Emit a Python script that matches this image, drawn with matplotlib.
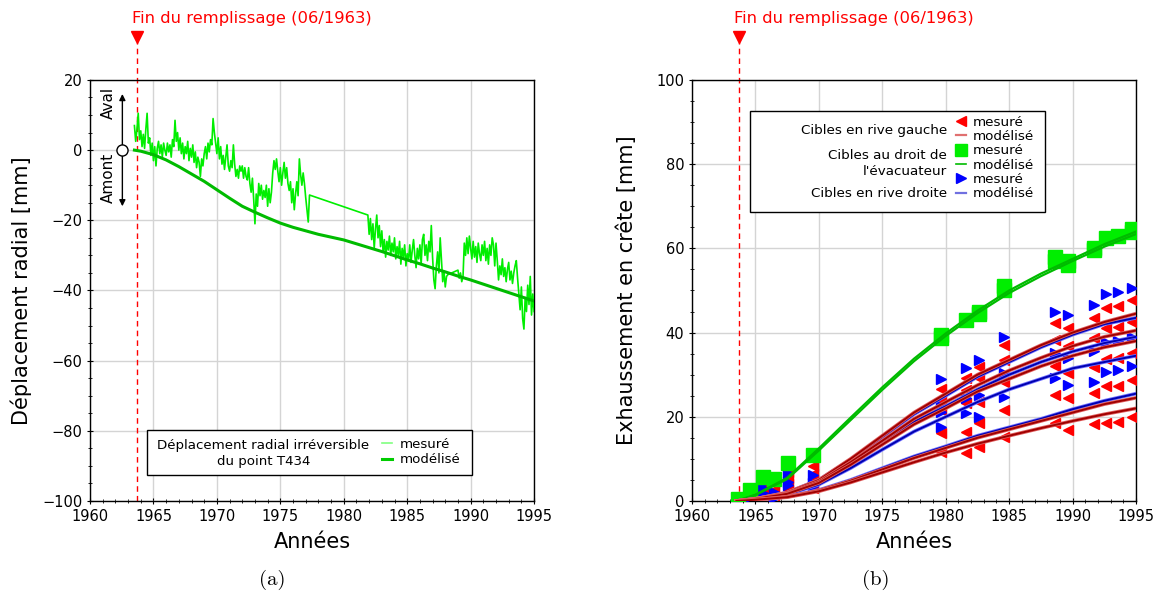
import numpy as np
import matplotlib
matplotlib.use("Agg")
import matplotlib.pyplot as plt
from matplotlib.lines import Line2D
from matplotlib.patches import Rectangle
from matplotlib.ticker import MultipleLocator

# ---------------- (a) déplacement radial du point T434 ----------------
fill_year = 1963.7

# mesuré : trois tronçons échantillonnés à 0.1 an
mes_a_start = 1963.5
mes_a = [
    7.0, 2.5, 6.0, 10.5, 3.0,
    5.5, 1.0, 4.5, 0.5, 6.0, 10.5, 2.0, 3.5, -1.5, 2.0,
    -3.0, 1.0, -4.5, 0.5, 2.5, -1.0, 1.5, -2.0, 2.0, 0.0,
    -1.5, 2.0, -0.5, 1.5, -2.0, 3.0, 1.0, 8.5, 2.5, 5.0,
    0.0, 3.5, -1.0, 2.0, -2.5, 1.0, -1.0, 2.5, -3.0, 0.5,
    -2.0, 1.5, -3.5, -0.5, -5.0, -2.0, -3.5, -7.5, -2.5, -4.5,
    -1.0, 1.0, -2.5, 2.0, -0.5, 3.0, 1.5, 9.0, 5.0, 2.0,
    -1.0, 3.5, -2.5, 1.0, -4.0, -1.5, -5.5, -2.0, 1.5, -4.5,
    -6.0, -3.0, -5.0, 1.5, -4.0, -7.5, -5.5, -8.0, -4.5, -6.0,
    -4.5, -8.0, -5.0, -7.5, -8.5, -5.0, -9.5, -12.0, -8.0, -14.0,
    -21.0, -12.5, -16.0, -9.5, -13.0, -10.0, -14.0, -11.5, -13.5, -10.0,
    -16.0, -11.0, -15.0, -12.0, -6.5, -3.0, -5.5, -2.5, -6.0, -9.0,
    -5.0, -10.0, -6.5, -3.5, -8.0, -5.0, -9.5, -11.5, -9.0, -15.0,
    -11.0, -17.0, -12.5, -9.0, -13.0, -2.5, -7.0, -10.0, -6.5, -9.5,
    -13.5, -17.0, -20.5,
]
gap_year = [1977.3]
gap_val = [-12.8]
mes_b_start = 1981.9
mes_b = [
    -18.5,
    -24.0, -19.5, -25.5, -21.0, -28.0, -22.5, -18.5, -25.0, -21.5, -27.5,
    -23.0, -29.0, -25.5, -30.5, -26.0, -28.5, -24.5, -30.0, -26.5, -29.0,
    -25.0, -31.0, -27.5, -30.0, -26.0, -32.5, -28.0, -30.5, -27.0, -33.0,
    -29.5, -31.5, -27.0, -32.0, -28.5, -25.5, -30.0, -33.5, -28.0, -31.0,
    -27.0, -32.5, -25.5, -24.0, -30.0, -27.0, -31.5, -26.0, -29.0, -21.5,
    -30.5, -37.0, -39.5, -33.0, -29.0, -35.0, -25.0, -31.0, -37.5, -34.5,
    -39.0, -36.0, -35.5,
]
mes_c_start = 1989.0
mes_c = [
    -34.2, -36.5, -35.0, -37.5, -36.0, -26.5, -30.0, -25.0, -29.5, -24.5,
    -28.0, -31.0, -26.0, -30.5, -27.5, -32.0, -26.5, -29.5, -31.5, -27.0,
    -30.0, -26.0, -31.5, -28.0, -32.5, -27.0, -30.0, -25.0, -27.0, -33.0,
    -26.5, -31.5, -37.0, -33.0, -35.5, -31.0, -36.0, -33.5, -37.5, -34.0,
    -32.0, -37.0, -34.5, -38.0, -35.0, -33.0, -31.5, -36.5, -41.0, -45.5,
    -39.0, -48.0, -51.0, -42.0, -46.0, -38.5, -44.0, -36.0, -47.0, -41.0,
    -46.0,
]

mod_a_years = [1963.5, 1964, 1965, 1966, 1967, 1968, 1969, 1970, 1971, 1972,
               1973, 1974, 1975, 1976, 1977, 1978, 1979, 1980, 1981, 1982,
               1983, 1984, 1985, 1986, 1987, 1988, 1989, 1990, 1991, 1992,
               1993, 1994, 1995]
mod_a = [0.0, -0.3, -1.3, -2.8, -4.7, -6.8, -8.9, -11.3, -13.7, -16.0,
         -17.7, -19.3, -20.8, -22.0, -23.0, -24.0, -24.8, -25.6, -26.7, -27.8,
         -28.9, -30.1, -31.3, -32.4, -33.6, -34.7, -35.9, -37.0, -38.2, -39.4,
         -40.6, -41.8, -43.0]

# ---------------- (b) exhaussement en crête ----------------
epochs = [1963.6, 1964.6, 1965.6, 1966.5, 1967.6, 1969.5, 1979.6, 1981.6,
          1982.6, 1984.6, 1988.6, 1989.6, 1991.7, 1992.6, 1993.6, 1994.7]
rg_mes = [
    [0.3, 0.0], [2.4, 1.5], [4.9, 3.5, 2.5], [4.0, 2.5, 1.5],
    [7.0, 5.5, 4.0, 2.5], [8.3, 6.5, 5.0, 3.0],
    [26.5, 24.0, 21.6, 16.1, 11.7], [29.1, 26.4, 23.2, 16.5, 11.5],
    [31.9, 29.1, 23.6, 18.5, 12.9], [37.1, 33.5, 28.3, 21.6, 15.1],
    [42.2, 38.2, 32.1, 25.2, 18.5], [41.0, 36.8, 30.3, 24.4, 16.9],
    [43.4, 38.6, 31.9, 25.6, 18.3], [45.9, 41.0, 33.7, 27.2, 18.5],
    [46.2, 41.4, 33.9, 27.2, 18.8], [47.7, 42.6, 35.2, 28.7, 20.0],
]
rd_mes = [
    [0.5, 0.2], [1.8, 1.0], [4.2, 3.0, 2.0], [2.2, 0.6],
    [6.6, 4.6, 3.8], [6.2, 4.3, 3.6],
    [29.0, 22.5, 21.2, 17.6], [31.5, 24.4, 21.0],
    [33.5, 25.2, 20.0], [38.9, 30.3, 24.6],
    [45.0, 35.1, 29.1], [44.2, 33.9, 27.6],
    [46.6, 35.7, 28.3], [49.1, 37.8, 30.7],
    [49.6, 38.1, 31.1], [50.5, 38.9, 32.1],
]
ev_mes = [
    [0.5], [2.6], [5.8], [5.2], [9.1], [10.9], [39.4, 38.8], [43.0],
    [45.0, 44.5], [51.0, 50.0], [58.0, 57.0], [57.0, 56.0], [60.0, 59.5],
    [62.5], [63.0], [64.5, 64.0],
]

mod_years = [1963.5, 1965, 1967.5, 1970, 1972.5, 1975, 1977.5, 1980,
             1982.5, 1985, 1987.5, 1990, 1992.5, 1995]
ev_mod = [
    [0, 1.5, 5.5, 12.5, 19.8, 27.0, 33.8, 39.8, 45.2, 50.0, 54.0, 57.5, 61.0, 64.0],
    [0, 1.4, 5.2, 12.0, 19.2, 26.4, 33.2, 39.2, 44.6, 49.4, 53.4, 57.0, 60.4, 63.4],
]
rg_mod = [
    [0, 0.5, 2.0, 5.0, 10.0, 15.5, 21.0, 25.5, 30.0, 33.5, 37.0, 40.0, 42.5, 44.5],
    [0, 0.5, 1.8, 4.6, 9.2, 14.3, 19.5, 23.5, 27.5, 31.0, 34.0, 36.8, 39.0, 40.5],
    [0, 0.5, 1.7, 4.3, 8.6, 13.4, 18.2, 22.0, 26.0, 29.0, 32.0, 34.5, 36.5, 38.0],
    [0, 0.3, 1.0, 2.5, 4.8, 7.5, 10.2, 12.6, 15.0, 17.0, 19.0, 21.0, 23.0, 24.5],
    [0, 0.3, 0.9, 2.3, 4.4, 6.8, 9.2, 11.5, 13.6, 15.5, 17.3, 19.0, 20.6, 22.0],
]
rd_mod = [
    [0, 0.5, 2.0, 5.0, 9.8, 15.2, 20.6, 25.0, 29.5, 33.0, 36.5, 39.5, 42.0, 43.5],
    [0, 0.5, 1.7, 4.4, 8.8, 13.8, 18.8, 22.5, 26.5, 30.0, 33.0, 35.5, 37.5, 39.0],
    [0, 0.4, 1.5, 3.9, 7.8, 12.2, 16.5, 20.0, 23.5, 26.5, 29.0, 31.5, 33.0, 34.5],
    [0, 0.3, 1.0, 2.6, 5.0, 7.8, 10.6, 13.0, 15.5, 17.5, 19.5, 21.8, 23.8, 25.5],
]

# ---------------- style ----------------
plt.rcParams.update({
    "font.family": ["DejaVu Sans"],
    "font.size": 10.5,
    "axes.linewidth": 1.0,
})
GRID = "#d4d4d4"

fig = plt.figure(figsize=(11.57, 5.94), dpi=100)
ax1 = fig.add_axes([0.0778, 0.1566, 0.3838, 0.7088])
ax2 = fig.add_axes([0.5981, 0.1566, 0.3838, 0.7088])


def common(ax, ylabel, ypad):
    ax.set_xlim(1960, 1995)
    ax.xaxis.set_major_locator(MultipleLocator(5))
    ax.xaxis.set_minor_locator(MultipleLocator(1))
    ax.yaxis.set_minor_locator(MultipleLocator(5))
    ax.tick_params(which="major", length=4, direction="inout", labelsize=10.5)
    ax.tick_params(which="minor", length=3, direction="inout")
    ax.grid(which="major", color=GRID, linewidth=1.0)
    ax.set_axisbelow(True)
    ax.set_xlabel("Années", fontsize=15, labelpad=6)
    ax.set_ylabel(ylabel, fontsize=15, labelpad=ypad)
    # fin du remplissage
    ax.axvline(fill_year, ymin=0, ymax=1.09, color="red", linestyle=(0, (4, 3)),
               linewidth=1.0, clip_on=False, zorder=1)
    ax.plot([fill_year], [1.102], marker="v", color="red", markersize=8,
            transform=ax.get_xaxis_transform(), clip_on=False)
    ax.text(fill_year - 0.4, 1.147, "Fin du remplissage (06/1963)", color="red",
            fontsize=11.8, ha="left", va="center", transform=ax.get_xaxis_transform())


# ---- panel (a) ----
mes_years = list(mes_a_start + 0.1 * np.arange(len(mes_a))) + gap_year \
    + list(mes_b_start + 0.1 * np.arange(len(mes_b))) \
    + list(mes_c_start + 0.1 * np.arange(len(mes_c)))
mes_vals = mes_a + gap_val + mes_b + mes_c
ax1.plot(mes_years, mes_vals, color="#00ee00", linewidth=1.2, zorder=3)
ax1.plot(mod_a_years, mod_a, color="#00bb00", linewidth=2.2, zorder=4)
ax1.set_ylim(-100, 20)
ax1.yaxis.set_major_locator(MultipleLocator(20))
common(ax1, "Déplacement radial [mm]", 7)

# amont / aval
ax1.annotate("", xy=(1962.55, 16), xytext=(1962.55, 1.5),
             arrowprops=dict(arrowstyle="-|>", color="black", lw=1.0,
                             mutation_scale=9, shrinkA=0, shrinkB=0))
ax1.annotate("", xy=(1962.55, -16), xytext=(1962.55, -1.5),
             arrowprops=dict(arrowstyle="-|>", color="black", lw=1.0,
                             mutation_scale=9, shrinkA=0, shrinkB=0))
ax1.plot([1962.55], [0], marker="o", markersize=8, markerfacecolor="white",
         markeredgecolor="black", clip_on=False, zorder=6)
ax1.text(1961.45, 13.4, "Aval", rotation=90, ha="center", va="center", fontsize=11)
ax1.text(1961.45, -8.0, "Amont", rotation=90, ha="center", va="center", fontsize=11)

# légende (a)
ax1.add_patch(Rectangle((0.129, 0.062), 0.731, 0.107, transform=ax1.transAxes,
                        facecolor="white", edgecolor="black", linewidth=1.0, zorder=7))
ax1.text(0.390, 0.113, "Déplacement radial irréversible\ndu point T434",
         transform=ax1.transAxes, ha="center", va="center", fontsize=9.6,
         linespacing=1.25, zorder=8)
h_a = [Line2D([], [], color="#80ff80", linewidth=1.2),
       Line2D([], [], color="#00cc00", linewidth=2.2)]
leg1 = ax1.legend(h_a, ["mesuré", "modélisé"], loc="upper left",
                  bbox_to_anchor=(0.657, 0.150), frameon=False, fontsize=9.6,
                  handlelength=0.75, handletextpad=0.6, labelspacing=0.2,
                  borderaxespad=0, borderpad=0)
leg1.set_zorder(9)

# ---- panel (b) ----
for ep, vals in zip(epochs, rg_mes):
    ax2.plot([ep] * len(vals), vals, linestyle="none", marker="<",
             color="#ff0000", markersize=7, zorder=3)
for ep, vals in zip(epochs, rd_mes):
    ax2.plot([ep] * len(vals), vals, linestyle="none", marker=">",
             color="#0000ff", markersize=7, zorder=3)
for ep, vals in zip(epochs, ev_mes):
    ax2.plot([ep] * len(vals), vals, linestyle="none", marker="s",
             color="#00ee00", markersize=10, zorder=3)

for curve in ev_mod:
    ax2.plot(mod_years, curve, color="#00bb00", linewidth=1.6, zorder=4)
for curve in rd_mod:
    ax2.plot(mod_years, curve, color="#7070ff", linewidth=2.6, zorder=4)
    ax2.plot(mod_years, curve, color="#0000b0", linewidth=1.4, zorder=4)
for curve in rg_mod:
    ax2.plot(mod_years, curve, color="#e06060", linewidth=2.6, zorder=4)
    ax2.plot(mod_years, curve, color="#a00000", linewidth=1.4, zorder=4)

ax2.set_ylim(0, 100)
ax2.yaxis.set_major_locator(MultipleLocator(20))
common(ax2, "Exhaussement en crête [mm]", 14)

# légende (b)
ax2.add_patch(Rectangle((0.1306, 0.686), 0.664, 0.240, transform=ax2.transAxes,
                        facecolor="white", edgecolor="black", linewidth=1.0, zorder=7))
for ty, txt in [(0.880, "Cibles en rive gauche"), (0.821, "Cibles au droit de"),
                (0.782, "l'évacuateur"), (0.731, "Cibles en rive droite")]:
    ax2.text(0.574, ty, txt, transform=ax2.transAxes, ha="right", va="center",
             fontsize=9.7, zorder=8)
h_b = [Line2D([], [], linestyle="none", marker="<", color="#ff0000", markersize=7),
       Line2D([], [], color="#e07070", linewidth=1.6),
       Line2D([], [], linestyle="none", marker="s", color="#00ee00", markersize=9),
       Line2D([], [], color="#00bb00", linewidth=1.2),
       Line2D([], [], linestyle="none", marker=">", color="#0000ff", markersize=7),
       Line2D([], [], color="#7070e0", linewidth=1.6)]
lab_b = ["mesuré", "modélisé"] * 3
leg2 = ax2.legend(h_b, lab_b, loc="upper left", bbox_to_anchor=(0.595, 0.915),
                  frameon=False, fontsize=9.7, handlelength=0.7, handletextpad=0.5,
                  labelspacing=0.1, borderaxespad=0, borderpad=0)
leg2.set_zorder(9)

# sous-titres
fig.text(0.235, 0.0236, "(a)", fontsize=15, fontfamily="cmr10", ha="center", va="center")
fig.text(0.757, 0.0236, "(b)", fontsize=15, fontfamily="cmr10", ha="center", va="center")

fig.savefig("out.png", dpi=100)
